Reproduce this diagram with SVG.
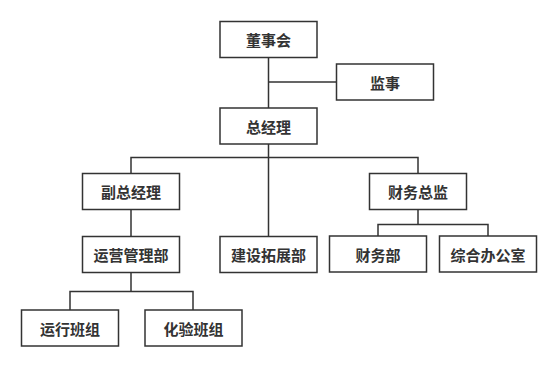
<svg xmlns="http://www.w3.org/2000/svg" width="558" height="369" viewBox="0 0 558 369">
<style>
.box{fill:#fff;stroke:#333;stroke-width:1.5}
.lbl{font-family:"Noto Sans CJK SC","Noto Sans",sans-serif;font-size:15px;font-weight:bold;fill:#333;text-anchor:middle;dominant-baseline:central}
.conn{fill:none;stroke:#333;stroke-width:1.5}
</style>
<rect width="558" height="369" fill="#fff"/>
<g id="connectors" class="conn">
<path d="M268.5 57.5V236.5M268.5 82H336.5M131 173.5V157.5H418V173.5M131 209.5V236.5M418 209.5V224.5M378 236V224.5H488V236M131 272.5V291.5M70 310V291.5H193V310"/>
</g>
<g id="n1"><rect class="box" x="220" y="21.5" width="97" height="36"/><text class="lbl" x="268.5" y="39.5">董事会</text></g>
<g id="n2"><rect class="box" x="336.5" y="64" width="97" height="36"/><text class="lbl" x="385" y="82">监事</text></g>
<g id="n3"><rect class="box" x="220" y="108" width="97" height="36"/><text class="lbl" x="268.5" y="126">总经理</text></g>
<g id="n4"><rect class="box" x="82.5" y="173.5" width="97" height="36"/><text class="lbl" x="131" y="191.5">副总经理</text></g>
<g id="n5"><rect class="box" x="369.5" y="173.5" width="97" height="36"/><text class="lbl" x="418" y="191.5">财务总监</text></g>
<g id="n6"><rect class="box" x="82.5" y="236.5" width="97" height="36"/><text class="lbl" x="131" y="254.5">运营管理部</text></g>
<g id="n7"><rect class="box" x="220" y="236.5" width="97" height="36"/><text class="lbl" x="268.5" y="254.5">建设拓展部</text></g>
<g id="n8"><rect class="box" x="329.5" y="236" width="97" height="36"/><text class="lbl" x="378" y="254">财务部</text></g>
<g id="n9"><rect class="box" x="439.5" y="236" width="97" height="36"/><text class="lbl" x="488" y="254">综合办公室</text></g>
<g id="n10"><rect class="box" x="21.5" y="310" width="97" height="36"/><text class="lbl" x="70" y="328">运行班组</text></g>
<g id="n11"><rect class="box" x="145" y="310" width="97" height="36"/><text class="lbl" x="193.5" y="328">化验班组</text></g>
</svg>
